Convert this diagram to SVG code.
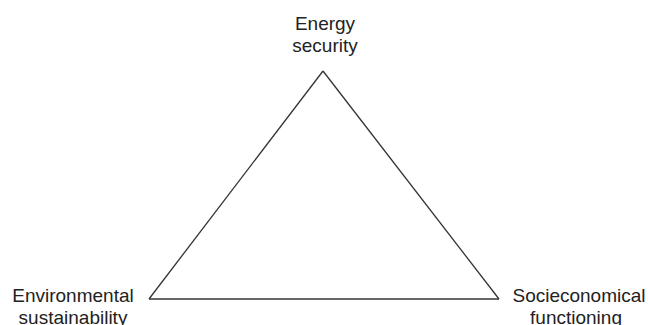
<svg xmlns="http://www.w3.org/2000/svg" width="648" height="325" viewBox="0 0 648 325">
<style>
.lbl{font-family:"Liberation Sans",Arial,sans-serif;font-size:19px;fill:#222;text-anchor:middle}
.edge{stroke:#333;stroke-width:1.3;fill:none}
</style>
<rect width="648" height="325" fill="#fff"/>
<g id="connectors">
<line class="edge" x1="323" y1="71" x2="149" y2="299"/>
<line class="edge" x1="323" y1="71" x2="499" y2="299"/>
<line class="edge" x1="149" y1="299" x2="499" y2="299"/>
</g>
<g id="energy-security">
<text class="lbl" x="325" y="30">Energy</text>
<text class="lbl" x="325" y="52">security</text>
</g>
<g id="environmental-sustainability">
<text class="lbl" x="73" y="302">Environmental</text>
<text class="lbl" x="73" y="324">sustainability</text>
</g>
<g id="socieconomical-functioning">
<text class="lbl" x="579" y="302">Socieconomical</text>
<text class="lbl" x="576" y="324">functioning</text>
</g>
</svg>
